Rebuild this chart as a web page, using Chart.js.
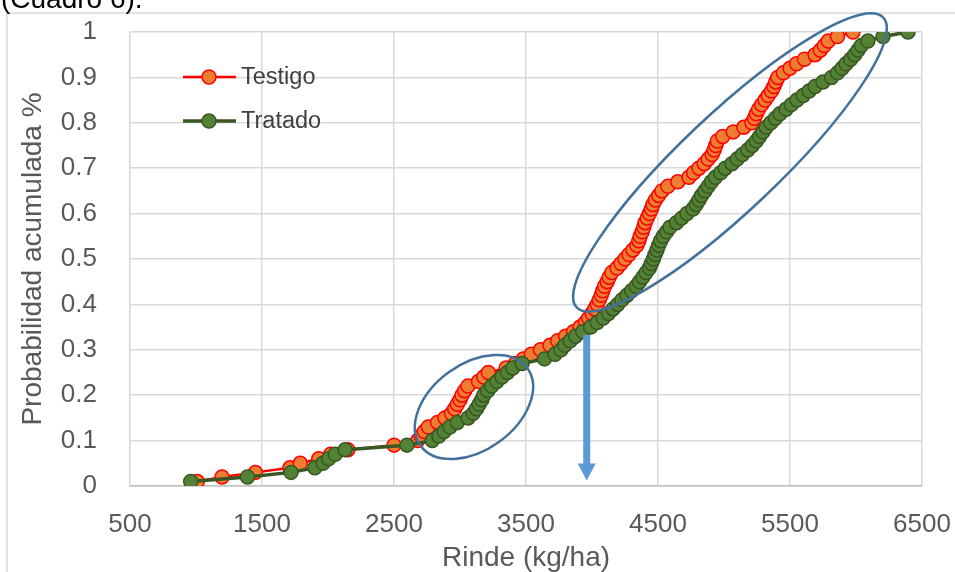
<!DOCTYPE html>
<html>
<head>
<meta charset="utf-8">
<script src="https://cdn.jsdelivr.net/npm/chart.js@4.4.1/dist/chart.umd.min.js"></script>
<style>
  html, body { margin: 0; padding: 0; background: #fff; overflow: hidden; }
  #wrap { position: relative; width: 955px; height: 572px; }
</style>
</head>
<body>
<div id="wrap"><canvas id="grafico" width="955" height="572"></canvas></div>
<script>
// Probabilidad acumulada (eje Y), compartida por ambas series
const probabilidad = [
  0.01, 0.02, 0.03, 0.04, 0.05, 0.06, 0.07, 0.08, 0.09, 0.10,
  0.11, 0.12, 0.13, 0.14, 0.15, 0.16, 0.17, 0.18, 0.19, 0.20,
  0.21, 0.22, 0.23, 0.24, 0.25, 0.26, 0.27, 0.28, 0.29, 0.30,
  0.31, 0.32, 0.33, 0.34, 0.35, 0.36, 0.37, 0.38, 0.39, 0.40,
  0.41, 0.42, 0.43, 0.44, 0.45, 0.46, 0.47, 0.48, 0.49, 0.50,
  0.51, 0.52, 0.53, 0.54, 0.55, 0.56, 0.57, 0.58, 0.59, 0.60,
  0.61, 0.62, 0.63, 0.64, 0.65, 0.66, 0.67, 0.68, 0.69, 0.70,
  0.71, 0.72, 0.73, 0.74, 0.75, 0.76, 0.77, 0.78, 0.79, 0.80,
  0.81, 0.82, 0.83, 0.84, 0.85, 0.86, 0.87, 0.88, 0.89, 0.90,
  0.91, 0.92, 0.93, 0.94, 0.95, 0.96, 0.97, 0.98, 0.99, 1.00
];

// Rinde (kg/ha) ordenado
const rindeTestigo = [
  1010, 1197, 1450, 1712, 1790, 1930, 2020, 2150, 2500, 2680,
  2705, 2730, 2760, 2830, 2886, 2935, 2960, 2980, 3000, 3015,
  3035, 3060, 3140, 3180, 3215, 3350, 3420, 3480, 3540, 3610,
  3682, 3740, 3800, 3860, 3910, 3950, 3975, 4000, 4020, 4040,
  4055, 4070, 4082, 4095, 4115, 4130, 4150, 4190, 4220, 4250,
  4280, 4310, 4340, 4355, 4365, 4380, 4392, 4402, 4418, 4435,
  4450, 4462, 4480, 4505, 4530, 4575, 4650, 4735, 4770, 4810,
  4850, 4880, 4910, 4925, 4938, 4950, 4990, 5070, 5150, 5212,
  5230, 5245, 5262, 5285, 5311, 5335, 5360, 5378, 5392, 5408,
  5450, 5500, 5550, 5610, 5690, 5730, 5760, 5790, 5860, 5977
];

const rindeTratado = [
  960, 1390, 1720, 1900, 1962, 2005, 2055, 2130, 2598, 2790,
  2840, 2880, 2924, 2980, 3061, 3100, 3125, 3145, 3165, 3180,
  3210, 3240, 3280, 3318, 3360, 3400, 3470, 3640, 3720, 3765,
  3795, 3835, 3875, 3930, 3990, 4040, 4085, 4125, 4160, 4195,
  4227, 4265, 4300, 4335, 4360, 4385, 4410, 4435, 4450, 4465,
  4478, 4492, 4505, 4520, 4540, 4565, 4591, 4640, 4680, 4720,
  4765, 4790, 4810, 4830, 4855, 4880, 4905, 4935, 4975, 5010,
  5060, 5100, 5140, 5180, 5215, 5245, 5270, 5295, 5320, 5355,
  5390, 5424, 5470, 5510, 5553, 5600, 5645, 5690, 5750, 5815,
  5860, 5895, 5925, 5960, 5990, 6015, 6040, 6090, 6205, 6394
];

const series = ['Testigo', 'Tratado'];

// Anotaciones: elipses (centro en datos) y flecha en 4000 kg/ha aprox.
const elipses = [
  { x: 3106, y: 0.174 },
  { x: 5045, y: 0.7126 }
];
const flecha = { x: 3960, desde: 0.333, hasta: 0.012 };

const aPuntos = (xs) => xs.map((x, i) => ({ x: x, y: probabilidad[i] }));

const FONT = "'Liberation Sans', Arial, sans-serif";
const GRIS = '#595959';

const decoracion = {
  id: 'decoracion',
  beforeDraw(chart) {
    const ctx = chart.ctx;
    ctx.save();
    ctx.fillStyle = '#fff';
    ctx.fillRect(0, 0, chart.width, chart.height);
    // marco del grafico
    ctx.strokeStyle = '#d9d9d9';
    ctx.lineWidth = 1.5;
    ctx.beginPath();
    ctx.moveTo(7, chart.height);
    ctx.lineTo(7, 13);
    ctx.lineTo(chart.width, 13);
    ctx.stroke();
    // texto del documento que queda cortado arriba
    ctx.fillStyle = '#000';
    ctx.font = '28px ' + FONT;
    ctx.textBaseline = 'alphabetic';
    ctx.fillText('(Cuadro 6).', 1, 8);
    ctx.restore();
  },
  afterDatasetsDraw(chart) {
    const ctx = chart.ctx;
    const sx = chart.scales.x, sy = chart.scales.y;
    ctx.save();
    // elipses
    ctx.strokeStyle = '#41719c';
    ctx.lineWidth = 2.5;
    const formas = [[66, 43, -36], [211, 48.5, -43.4]];
    elipses.forEach((e, i) => {
      const f = formas[i];
      ctx.beginPath();
      ctx.ellipse(sx.getPixelForValue(e.x), sy.getPixelForValue(e.y), f[0], f[1], f[2] * Math.PI / 180, 0, Math.PI * 2);
      ctx.stroke();
    });
    // flecha
    const fx = sx.getPixelForValue(flecha.x);
    const y0 = sy.getPixelForValue(flecha.desde);
    const y1 = sy.getPixelForValue(flecha.hasta);
    ctx.fillStyle = '#5b9bd5';
    ctx.fillRect(fx - 3.5, y0, 7, y1 - y0 - 16);
    ctx.beginPath();
    ctx.moveTo(fx - 9, y1 - 17);
    ctx.lineTo(fx + 9, y1 - 17);
    ctx.lineTo(fx, y1);
    ctx.closePath();
    ctx.fill();
    // leyenda
    const ca = chart.chartArea;
    chart.data.datasets.forEach((ds, i) => {
      const ly = ca.top + 45 + i * 44;
      const lx = ca.left + 53;
      ctx.strokeStyle = ds.borderColor;
      ctx.lineWidth = ds.borderWidth;
      ctx.beginPath();
      ctx.moveTo(lx, ly);
      ctx.lineTo(lx + 53, ly);
      ctx.stroke();
      ctx.beginPath();
      ctx.arc(lx + 26, ly, 7, 0, Math.PI * 2);
      ctx.fillStyle = ds.backgroundColor;
      ctx.fill();
      ctx.lineWidth = 1.5;
      ctx.strokeStyle = ds.pointBorderColor;
      ctx.stroke();
      ctx.fillStyle = '#404040';
      ctx.font = '23.5px ' + FONT;
      ctx.textBaseline = 'middle';
      ctx.fillText(ds.label, lx + 58, ly + 1);
    });
    ctx.restore();
  }
};

const config = {
  type: 'scatter',
  data: {
    datasets: [{
      label: series[0],
      data: aPuntos(rindeTestigo),
      showLine: true,
      borderColor: '#ff0000',
      borderWidth: 2.5,
      backgroundColor: '#ed7d31',
      pointBorderColor: '#ff0000',
      pointBorderWidth: 1.5,
      pointRadius: 7,
      order: 1
    },
    {
      label: series[1],
      data: aPuntos(rindeTratado),
      showLine: true,
      borderColor: '#385723',
      borderWidth: 3.5,
      backgroundColor: '#548235',
      pointBorderColor: '#385723',
      pointBorderWidth: 1.5,
      pointRadius: 7,
      order: 0
    }]
  },
  options: {
    responsive: false,
    animation: false,
    devicePixelRatio: 1,
    layout: { padding: { left: 0, top: 32, right: 33, bottom: 0 } },
    plugins: { legend: { display: false }, tooltip: { enabled: false } },
    scales: {
      x: {
        type: 'linear',
        position: 'bottom',
        min: 500,
        max: 6500,
        afterFit(axis) { axis.height = 86; axis.paddingLeft = 0; axis.paddingRight = 0; },
        ticks: {
          stepSize: 1000,
          padding: 23,
          color: GRIS,
          font: { size: 26, family: FONT },
          callback: (v) => String(v)
        },
        grid: { color: '#d9d9d9', lineWidth: 1.5, drawTicks: false },
        border: { color: '#bfbfbf', width: 1.5 },
        title: { display: true, text: 'Rinde (kg/ha)', color: GRIS, padding: { top: 0, bottom: 0 }, font: { size: 28, family: FONT, lineHeight: 1.0 } }
      },
      y: {
        min: 0,
        max: 1,
        afterFit(axis) { axis.width = 130; axis.paddingTop = 0; axis.paddingBottom = 0; },
        ticks: {
          stepSize: 0.1,
          padding: 33,
          color: GRIS,
          font: { size: 26, family: FONT },
          callback: (v) => String(Math.round(v * 10) / 10)
        },
        grid: { color: '#d9d9d9', lineWidth: 1.5, drawTicks: false },
        border: { color: '#d9d9d9', width: 1.5 },
        title: { display: true, text: 'Probabilidad acumulada %', color: GRIS, padding: { top: 16, bottom: 0 }, font: { size: 28, family: FONT } }
      }
    }
  },
  plugins: [decoracion]
};

window.onload = function() {
  const ctx = document.getElementById('grafico').getContext('2d');
  window.grafico = new Chart(ctx, config);
};
</script>
</body>
</html>
